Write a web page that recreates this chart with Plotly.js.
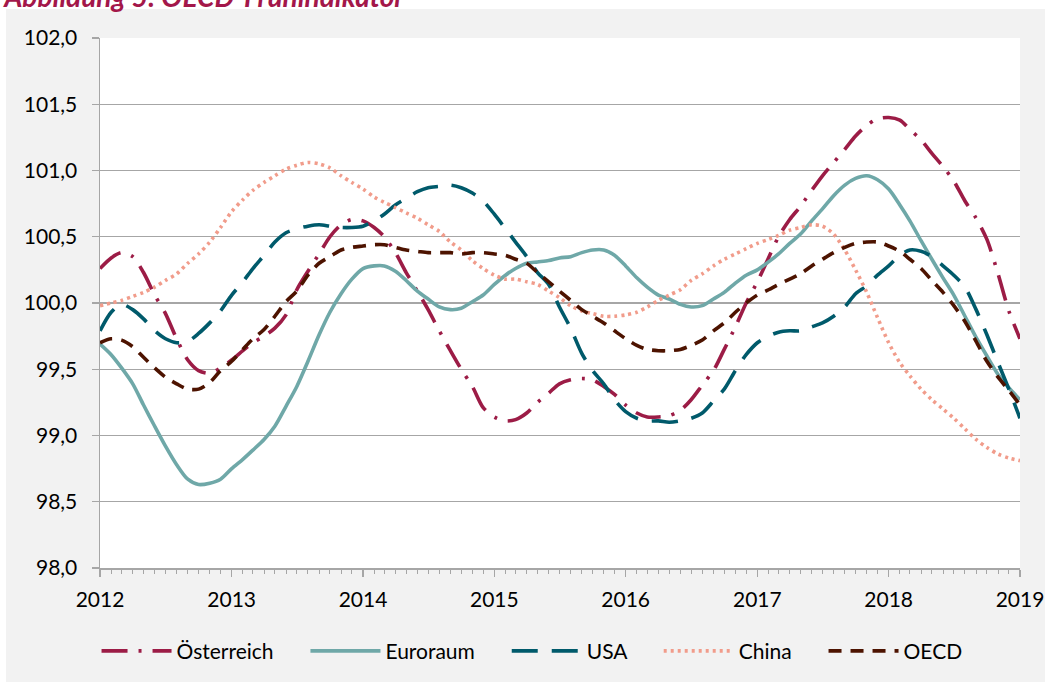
<!DOCTYPE html>
<html>
<head>
<meta charset="utf-8">
<script src="https://cdn.plot.ly/plotly-3.0.1.min.js"></script>
<style>
  html, body { margin: 0; padding: 0; background: #ffffff; }
  #chart { width: 1045px; height: 682px; }
</style>
</head>
<body>
<div id="chart"></div>
<script>
// Monthly values, Jan 2012 .. Jan 2019 (85 months)
const startYear = 2012;
const monthCount = 85;
const yearTicks = [2012, 2013, 2014, 2015, 2016, 2017, 2018, 2019];
const seriesNames = ['Österreich', 'Euroraum', 'USA', 'China', 'OECD'];

const oesterreich = [
  100.26, 100.34, 100.38, 100.35, 100.23, 100.06, 99.92, 99.73, 99.57, 99.49, 99.47, 99.51, 99.57, 99.64, 99.70, 99.75, 99.81, 99.91,
  100.10, 100.24, 100.37, 100.50, 100.59, 100.63, 100.62, 100.57, 100.50, 100.38, 100.23, 100.09, 99.95, 99.79, 99.64, 99.50, 99.37,
  99.21, 99.14, 99.11, 99.12, 99.17, 99.25, 99.32, 99.39, 99.42, 99.43, 99.42, 99.37, 99.31, 99.23, 99.17, 99.14, 99.14,
  99.15, 99.19, 99.27, 99.38, 99.49, 99.65, 99.82, 100.00, 100.16, 100.34, 100.50, 100.63, 100.73, 100.85, 100.96, 101.06, 101.16, 101.26,
  101.34, 101.39, 101.40, 101.38, 101.31, 101.23, 101.13, 101.03, 100.92, 100.77, 100.64, 100.48, 100.22, 99.94, 99.73
];
const euroraum = [
  99.69, 99.61, 99.51, 99.39, 99.23, 99.07, 98.92, 98.78, 98.67, 98.63, 98.64, 98.67, 98.75, 98.82, 98.89, 98.97, 99.07, 99.22,
  99.37, 99.56, 99.76, 99.93, 100.07, 100.18, 100.26, 100.28, 100.28, 100.24, 100.17, 100.09, 100.03, 99.97, 99.95, 99.96, 100.01,
  100.06, 100.14, 100.21, 100.26, 100.30, 100.31, 100.32, 100.34, 100.35, 100.38, 100.40, 100.40, 100.36, 100.28, 100.19, 100.12, 100.06,
  100.03, 99.99, 99.97, 99.98, 100.03, 100.08, 100.15, 100.21, 100.25, 100.31, 100.37, 100.45, 100.52, 100.62, 100.71, 100.81, 100.89, 100.94,
  100.96, 100.93, 100.86, 100.74, 100.62, 100.47, 100.33, 100.19, 100.06, 99.90, 99.74, 99.60, 99.46, 99.36, 99.27
];
const usa = [
  99.79, 99.93, 99.99, 99.95, 99.88, 99.79, 99.73, 99.70, 99.71, 99.77, 99.85, 99.94, 100.06, 100.16, 100.26, 100.36, 100.46, 100.53,
  100.56, 100.58, 100.59, 100.58, 100.57, 100.57, 100.58, 100.62, 100.67, 100.74, 100.79, 100.84, 100.87, 100.88, 100.89, 100.87, 100.83,
  100.77, 100.67, 100.56, 100.46, 100.35, 100.23, 100.14, 99.97, 99.81, 99.62, 99.49, 99.39, 99.27, 99.18, 99.13, 99.11, 99.11,
  99.10, 99.11, 99.13, 99.17, 99.26, 99.35, 99.49, 99.61, 99.70, 99.75, 99.78, 99.79, 99.79, 99.82, 99.85, 99.90, 99.97, 100.07,
  100.13, 100.21, 100.28, 100.36, 100.40, 100.39, 100.35, 100.28, 100.21, 100.12, 99.95, 99.76, 99.55, 99.35, 99.13
];
const china = [
  99.98, 100.00, 100.02, 100.05, 100.08, 100.12, 100.17, 100.22, 100.30, 100.37, 100.46, 100.57, 100.69, 100.78, 100.85, 100.91, 100.96, 101.01,
  101.04, 101.06, 101.05, 101.02, 100.96, 100.91, 100.86, 100.80, 100.76, 100.72, 100.68, 100.64, 100.59, 100.54, 100.46, 100.40, 100.32,
  100.26, 100.21, 100.18, 100.18, 100.16, 100.14, 100.09, 100.04, 99.98, 99.94, 99.92, 99.90, 99.90, 99.91, 99.93, 99.97, 100.02,
  100.06, 100.10, 100.17, 100.22, 100.28, 100.33, 100.37, 100.41, 100.45, 100.48, 100.51, 100.55, 100.57, 100.59, 100.58, 100.52, 100.40, 100.25,
  100.08, 99.89, 99.70, 99.55, 99.45, 99.35, 99.27, 99.20, 99.13, 99.05, 98.97, 98.91, 98.86, 98.83, 98.81
];
const oecd = [
  99.70, 99.73, 99.72, 99.67, 99.59, 99.51, 99.44, 99.39, 99.35, 99.35, 99.40, 99.49, 99.56, 99.65, 99.73, 99.80, 99.90, 100.01,
  100.09, 100.21, 100.30, 100.35, 100.40, 100.42, 100.43, 100.44, 100.44, 100.42, 100.40, 100.39, 100.38, 100.38, 100.38, 100.37, 100.38,
  100.38, 100.37, 100.36, 100.33, 100.30, 100.23, 100.16, 100.09, 100.02, 99.95, 99.90, 99.85, 99.79, 99.73, 99.68, 99.65, 99.64,
  99.64, 99.65, 99.68, 99.72, 99.79, 99.85, 99.93, 100.00, 100.06, 100.10, 100.14, 100.18, 100.22, 100.28, 100.33, 100.38, 100.42, 100.45,
  100.46, 100.46, 100.43, 100.39, 100.33, 100.26, 100.17, 100.08, 99.98, 99.86, 99.71, 99.56, 99.44, 99.34, 99.23
];

const months = [];
for (let i = 0; i < monthCount; i++) {
  const y = startYear + Math.floor(i / 12);
  const m = (i % 12) + 1;
  months.push(y + '-' + String(m).padStart(2, '0') + '-01');
}

const FONT = 'Lato, "Open Sans", sans-serif';
const FS = 21;
const W = 3.6;
const PAD = '\u00a0\u00a0\u00a0\u00a0\u00a0';

function tr(i, y, color, dash) {
  const last = i === seriesNames.length - 1;
  return {
    type: 'scatter', mode: 'lines', name: seriesNames[i] + (last ? '' : PAD), x: months, y: y,
    line: { color: color, width: W, dash: dash, shape: 'spline', smoothing: 0.8 }
  };
}

const traces = [
  tr(0, oesterreich, '#9c1c46', '26px,11px,3px,11px'),
  tr(1, euroraum, '#6fa8a8', 'solid'),
  tr(2, usa, '#005a6b', '26px,14px'),
  tr(3, china, '#f19c8b', '3px,4px'),
  tr(4, oecd, '#4d1300', '13px,9px')
];

const layout = {
  width: 1045, height: 682,
  margin: { l: 100, r: 25, t: 38, b: 114, pad: 0, autoexpand: false },
  paper_bgcolor: '#f2f2f2',
  plot_bgcolor: '#ffffff',
  separators: ', ',
  font: { family: FONT, size: FS, color: '#000000' },
  title: {
    text: '<b><i>Abbildung 5: OECD-Frühindikator</i></b>',
    font: { family: FONT, size: 28, color: '#a3174a' },
    xref: 'container', x: 0.004, xanchor: 'left',
    yref: 'container', y: 0.9897, yanchor: 'bottom',
    pad: { t: 0, b: 0, l: 0, r: 0 }
  },
  shapes: [
    { type: 'rect', xref: 'paper', yref: 'paper', x0: -1, x1: 2, y0: 1.0547, y1: 2,
      fillcolor: '#ffffff', line: { width: 0 }, layer: 'below' },
    { type: 'rect', xref: 'paper', yref: 'paper', x0: -1, x1: -0.1022, y0: -1, y1: 2,
      fillcolor: '#ffffff', line: { width: 0 }, layer: 'below' }
  ],
  xaxis: {
    type: 'date',
    range: [yearTicks[0] + '-01-01', yearTicks[yearTicks.length - 1] + '-01-01'],
    tickvals: yearTicks.map(y => y + '-01-01'),
    ticktext: yearTicks.map(String),
    ticks: 'outside', ticklen: 7, tickwidth: 1.3, tickcolor: '#a6a6a6',
    ticklabelstandoff: 5,
    showline: true, linecolor: '#a6a6a6', linewidth: 1.5,
    showgrid: false, zeroline: false,
    minor: { dtick: 'M1', tick0: '2012-01-01', ticks: 'outside', ticklen: 4, tickwidth: 1, tickcolor: '#a6a6a6', showgrid: false },
    tickfont: { family: FONT, size: FS, color: '#000000' },
    fixedrange: true
  },
  yaxis: {
    range: [98, 102],
    tick0: 98, dtick: 0.5,
    tickformat: '.1f',
    ticks: 'outside', ticklen: 7, tickwidth: 1.3, tickcolor: '#a6a6a6',
    ticklabelstandoff: 10,
    showgrid: true, gridcolor: '#a6a6a6', gridwidth: 1.3,
    showline: true, linecolor: '#a6a6a6', linewidth: 1.5,
    zeroline: false,
    tickfont: { family: FONT, size: FS, color: '#000000' },
    fixedrange: true
  },
  showlegend: true,
  legend: {
    orientation: 'h',
    x: 0.4696, xanchor: 'center',
    y: -0.157, yanchor: 'middle',
    bgcolor: 'rgba(0,0,0,0)',
    font: { family: FONT, size: FS, color: '#000000' },
    itemwidth: 70,
    traceorder: 'normal'
  }
};

Plotly.newPlot('chart', traces, layout, { displayModeBar: false, staticPlot: true });
</script>
</body>
</html>
